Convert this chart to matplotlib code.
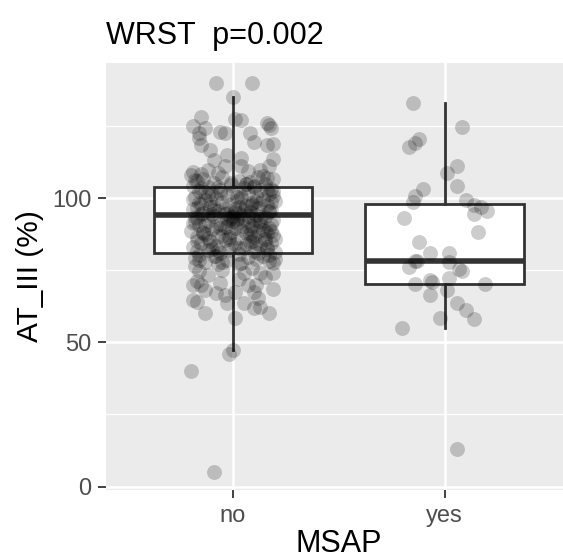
import matplotlib
matplotlib.use("Agg")
import matplotlib.pyplot as plt

plt.rcParams['font.family'] = ['Liberation Sans', 'DejaVu Sans']

# group labels and box statistics
groups = ['no', 'yes']
q1 = [81.1, 70.2]
median = [94.1, 78.3]
q3 = [104.0, 98.0]
whisker_lo = [47.4, 55.0]
whisker_hi = [135.2, 132.9]

# jittered points of group "no": horizontal jitter offset and AT_III value
no_dx = [
    -0.08, 0.09, 0.00, -0.15, -0.19, -0.13, -0.16, -0.16, -0.15, -0.06,
    -0.04, 0.01, 0.04, 0.08, 0.10, 0.16, 0.18, 0.16, 0.19, -0.11,
    -0.03, 0.04, 0.19, 0.17, 0.13, -0.19, -0.09, -0.12, -0.04, 0.04,
    -0.07, 0.17,
    -0.20, -0.05, 0.12, 0.19, -0.14, 0.03, -0.17, 0.08, -0.09, 0.15,
    -0.01, -0.19, 0.10, -0.12, 0.05, 0.18, -0.06, 0.13, -0.16, 0.00,
    0.07, -0.10, 0.17, -0.03, 0.11, -0.18, 0.04, -0.08, 0.14, -0.13,
    0.02, 0.20, -0.05, 0.09, -0.15, 0.16, -0.02, 0.06, -0.11, 0.12,
    -0.19, 0.01, 0.18, -0.07, 0.08, -0.14, 0.03, -0.04, 0.11, 0.00,
    -0.09, 0.15, -0.17, 0.05, -0.02, 0.19, -0.12, 0.07, 0.02, -0.06,
    0.13, -0.16, 0.09, -0.03, 0.17, -0.10, 0.04, -0.20, 0.12, -0.01,
    0.06, -0.13, 0.19, -0.07, 0.10, -0.17, 0.02, 0.15, -0.04, -0.11,
    0.08, 0.18, -0.15, 0.01, 0.13, -0.08, -0.19, 0.05, 0.16, -0.02,
    -0.12, 0.10, 0.20, -0.06, 0.03, -0.16, 0.14, -0.09, 0.07, -0.18,
    0.11, -0.03, 0.17, -0.13, 0.04, 0.19, -0.07,
    -0.19, 0.13, 0.03, -0.09, 0.17, -0.15, 0.07, -0.03, 0.10, -0.18,
    0.18, -0.08, 0.01, 0.14, -0.14, 0.08, -0.05, 0.20, -0.17, 0.11,
    -0.01, 0.16, -0.10, 0.06, -0.15, 0.16, -0.06, 0.19, -0.11, 0.09,
    -0.17, 0.05, -0.12, 0.13, 0.00, -0.13, 0.08, 0.16, -0.02, 0.09,
    0.04, -0.01, -0.03, 0.02,
    0.14, -0.18, 0.06, -0.07, 0.19, -0.12, 0.02, 0.11, -0.16, 0.08,
    -0.04, 0.17, -0.10, 0.00, 0.13, -0.19, 0.05, -0.06, 0.18, -0.14,
    0.09, -0.02, 0.15, -0.11, 0.03, -0.17, 0.12, -0.08, 0.20, -0.05,
    0.07, -0.15, 0.16, -0.01, 0.10, -0.13, 0.04, 0.18, -0.09, 0.01,
    -0.18, 0.12, -0.04, 0.15, -0.12, 0.06, -0.07, 0.17, -0.16, 0.03,
    -0.16, -0.19, -0.15, -0.13, -0.17, -0.13, -0.06, -0.04, -0.03, 0.01,
    0.05, 0.07, 0.10, 0.05, 0.10, 0.13, 0.17, 0.19, 0.13, 0.19,
    0.01, 0.00, -0.02, -0.18, 0.09, -0.05, -0.12, 0.15, 0.03, -0.17,
    0.11, -0.08, 0.12, -0.19, -0.20, -0.09,
]
no_val = [
    140.1, 140.1, 135.2, 128.3, 125.1, 124.3, 122.5, 120.8, 118.5, 123.1,
    122.5, 127.4, 127.1, 122.5, 119.6, 126.0, 124.3, 118.5, 118.8, 116.7,
    115.0, 113.9, 113.5, 111.0, 109.8, 109.2, 113.3, 109.8, 111.0, 111.0,
    108.7, 125.4,
    108.0, 107.5, 107.2, 106.8, 106.5, 106.1, 105.8, 105.5, 105.2, 104.9,
    104.6, 104.3, 104.0, 103.8, 103.5, 103.2, 103.0, 102.7, 102.4, 102.1,
    101.9, 101.6, 101.3, 101.0, 100.8, 100.5, 100.2, 100.0, 99.7, 99.4,
    99.1, 98.9, 98.6, 98.3, 98.0, 97.8, 97.5, 97.2, 96.9, 96.7,
    96.4, 96.1, 95.8, 95.6, 95.3, 95.0, 94.8, 94.5, 94.2, 94.0,
    93.7, 93.4, 93.2, 92.9, 92.6, 92.3, 92.1, 91.8, 91.5, 91.2,
    90.9, 90.6, 90.3, 90.0, 89.7, 89.4, 89.1, 88.8, 88.5, 88.2,
    87.9, 87.6, 87.3, 87.0, 86.7, 86.4, 86.1, 85.8, 85.5, 85.2,
    84.9, 84.6, 84.3, 84.0, 83.7, 83.4, 83.1, 82.8, 82.5, 82.2,
    81.9, 81.6, 81.3, 81.0, 80.7, 80.4, 80.1, 79.8, 79.5, 79.2,
    78.9, 78.6, 78.3, 78.0, 77.7, 77.4, 77.1,
    99.8, 98.2, 97.0, 96.0, 95.2, 94.6, 93.9, 93.0, 92.4, 91.7,
    91.0, 90.4, 89.8, 89.0, 88.3, 87.5, 86.8, 86.0, 85.3, 84.5,
    83.8, 83.0, 82.3, 104.8, 103.6, 102.9, 101.7, 100.6, 99.0, 97.7,
    96.6, 95.9, 94.3, 93.6, 92.0, 90.8, 89.3, 88.0, 86.5, 85.0,
    94.1, 93.1, 94.9, 92.7,
    107.8, 106.3, 105.0, 103.9, 102.6, 101.2, 100.4, 99.2, 98.4, 97.4,
    96.3, 95.4, 94.4, 93.3, 92.2, 91.4, 90.5, 89.6, 88.7, 87.8,
    86.9, 85.9, 84.8, 83.9, 82.7, 81.8, 80.9, 79.9, 78.8, 77.9,
    109.5, 108.4, 106.9, 105.4, 104.1, 102.3, 100.9, 98.7, 96.8, 95.1,
    93.5, 91.9, 90.1, 88.6, 86.3, 84.2, 82.0, 80.2, 78.5, 77.3,
    74.6, 69.9, 69.9, 68.2, 64.1, 60.1, 70.5, 66.5, 63.6, 58.4,
    74.0, 69.9, 67.6, 63.6, 61.9, 62.4, 60.3, 68.4, 74.0, 74.0,
    67.6, 47.4, 45.9, 76.5, 75.8, 75.2, 73.5, 72.8, 71.9, 71.2,
    70.0, 67.0, 65.5, 64.8, 40.1, 5.2,
]

# jittered points of group "yes"
yes_dx = [
    -0.15, 0.08, -0.12, -0.14, -0.17, 0.01, 0.06, 0.06, -0.10, -0.14,
    -0.15, 0.10, 0.14, 0.17, 0.20, 0.14, -0.19, 0.16, -0.12, -0.07,
    0.02, -0.14, -0.13, -0.17, 0.02, 0.08, 0.07, -0.14, -0.07, -0.06,
    0.02, 0.01, 0.19, -0.07, 0.06, 0.10, 0.14, -0.02, -0.20, 0.06,
]
yes_val = [
    132.9, 124.8, 120.6, 119.1, 117.9, 108.9, 111.2, 104.4, 103.2, 100.6,
    98.6, 99.4, 97.7, 97.1, 95.7, 94.4, 93.1, 88.4, 84.7, 81.1,
    81.1, 78.3, 78.3, 76.1, 78.0, 74.9, 75.4, 70.3, 71.7, 71.1,
    72.3, 68.2, 70.2, 66.5, 63.6, 61.3, 58.1, 58.4, 55.0, 13.1,
]

fig = plt.figure(figsize=(5.63, 5.6), dpi=100)
ax = fig.add_axes([106 / 563, 70 / 560, 465.6 / 563, 427.3 / 560])
ax.set_facecolor('#EBEBEB')
for s in ax.spines.values():
    s.set_visible(False)

stats = []
for i, g in enumerate(groups):
    stats.append(dict(label=g, q1=q1[i], med=median[i], q3=q3[i],
                      whislo=whisker_lo[i], whishi=whisker_hi[i]))

ax.bxp(stats, positions=[1, 2], widths=0.75, showfliers=False, showcaps=False,
       patch_artist=True,
       boxprops=dict(facecolor='white', edgecolor='#333333', linewidth=2.0),
       whiskerprops=dict(color='#333333', linewidth=2.0),
       medianprops=dict(color='#333333', linewidth=4.0, solid_capstyle='butt'),
       zorder=2)

ax.scatter([1 + d for d in no_dx], no_val, s=115, color='black', alpha=0.2,
           linewidths=0, zorder=3)
ax.scatter([2 + d for d in yes_dx], yes_val, s=115, color='black', alpha=0.2,
           linewidths=0, zorder=3)

ax.set_xlim(0.4, 2.6)
ax.set_ylim(-1.2, 147.0)
ax.set_xticks([1, 2])
ax.set_xticklabels(groups)
ax.set_yticks([0, 50, 100])
ax.set_yticks([25, 75, 125], minor=True)
ax.tick_params(axis='both', which='major', length=5.5, width=1.3,
               color='#333333', labelcolor='#4D4D4D', labelsize=17)
ax.tick_params(axis='x', pad=5)
ax.tick_params(axis='y', pad=5)
ax.tick_params(which='minor', length=0)
ax.grid(True, which='major', color='white', linewidth=1.8)
ax.grid(True, which='minor', color='white', linewidth=0.9)
ax.set_axisbelow(True)

fig.text(106 / 563, 1 - 43.8 / 560, 'WRST  p=0.002', fontsize=22,
         ha='left', va='baseline')
fig.text(30 / 563, 1 - 276 / 560, 'AT_III (%)', fontsize=21.5,
         rotation=90, ha='center', va='center')
fig.text(339 / 563, 1 / 560, 'MSAP', fontsize=22,
         ha='center', va='bottom')

fig.savefig('out.png', dpi=100)
